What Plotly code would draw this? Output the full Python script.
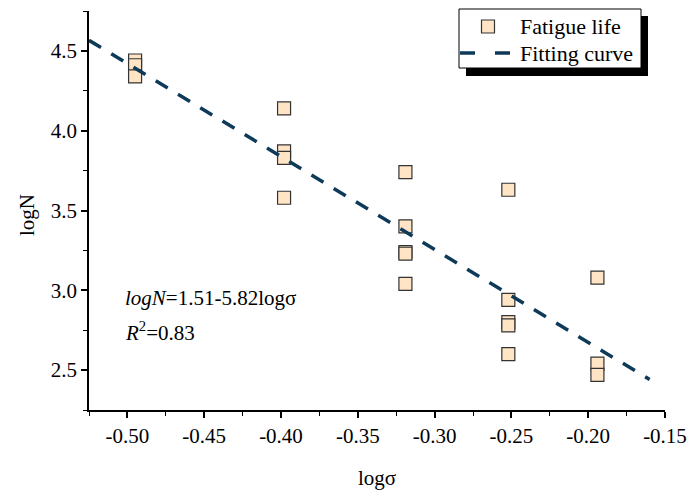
import plotly.graph_objects as go

# Data
x_fatigue = [-0.495, -0.495, -0.495,
             -0.398, -0.398, -0.398, -0.398,
             -0.319, -0.319, -0.319, -0.319, -0.319,
             -0.252, -0.252, -0.252, -0.252, -0.252,
             -0.194, -0.194, -0.194]
y_fatigue = [4.44, 4.41, 4.34,
             4.14, 3.87, 3.83, 3.58,
             3.74, 3.40, 3.24, 3.23, 3.04,
             3.63, 2.94, 2.80, 2.78, 2.60,
             3.08, 2.54, 2.47]
x_fit = [-0.525, -0.160]
y_fit = [4.566, 2.441]

x_ticks = [-0.50, -0.45, -0.40, -0.35, -0.30, -0.25, -0.20, -0.15]
x_ticklabels = ["-0.50", "-0.45", "-0.40", "-0.35", "-0.30", "-0.25", "-0.20", "-0.15"]
y_ticks = [2.5, 3.0, 3.5, 4.0, 4.5]
y_ticklabels = ["2.5", "3.0", "3.5", "4.0", "4.5"]
legend_names = ["Fatigue life", "Fitting curve"]

FONT = "Liberation Serif"
MARKER_FILL = "#FFE5C6"
MARKER_EDGE = "#333333"
LINE_COLOR = "#0E3A5A"
PL, PR, PT, PB = 89, 665, 11, 410   # plot area in pixels
PW, PH = PR - PL, PB - PT


def px(xp):
    return (xp - PL) / PW


def py(yp):
    return (PB - yp) / PH


fig = go.Figure()
fig.add_trace(go.Scatter(
    x=x_fatigue, y=y_fatigue, mode="markers", name=legend_names[0],
    marker=dict(symbol="square", size=13, color=MARKER_FILL,
                line=dict(color=MARKER_EDGE, width=1.2)),
))
fig.add_trace(go.Scatter(
    x=x_fit, y=y_fit, mode="lines", name=legend_names[1],
    line=dict(color=LINE_COLOR, width=3.5, dash="14px,12px"),
))

axis_common = dict(
    showline=True, linecolor="black", linewidth=1.5, mirror=False,
    ticks="outside", ticklen=6, tickwidth=1.5, tickcolor="black",
    showgrid=False, zeroline=False, automargin=False,
    tickfont=dict(family=FONT, size=21, color="black"),
)

fig.update_layout(
    width=689, height=490,
    margin=dict(l=PL, r=689 - PR, t=PT, b=490 - PB),
    paper_bgcolor="white", plot_bgcolor="white",
    font=dict(family=FONT, color="black"),
    showlegend=False,
    xaxis=dict(
        range=[-0.525, -0.15], tickvals=x_ticks, ticktext=x_ticklabels,
        minor=dict(ticks="outside", ticklen=4, tickwidth=1.2, tickcolor="black", dtick=0.025),
        **axis_common,
    ),
    yaxis=dict(
        range=[2.25, 4.75], tickvals=y_ticks, ticktext=y_ticklabels,
        minor=dict(ticks="outside", ticklen=4, tickwidth=1.2, tickcolor="black", dtick=0.25),
        **axis_common,
    ),
)

# ---- legend box (drawn by hand to match the framed, shadowed legend) ----
fig.add_shape(type="rect", xref="paper", yref="paper",
              x0=px(466), x1=px(648), y0=py(76), y1=py(16),
              fillcolor="black", line=dict(width=0), layer="above")
fig.add_shape(type="rect", xref="paper", yref="paper",
              x0=px(459), x1=px(641), y0=py(68), y1=py(9),
              fillcolor="white", line=dict(color="black", width=1), layer="above")
fig.add_shape(type="rect", xref="paper", yref="paper",
              x0=px(481.5), x1=px(494.5), y0=py(33), y1=py(20),
              fillcolor=MARKER_FILL, line=dict(color=MARKER_EDGE, width=1.2), layer="above")
fig.add_shape(type="line", xref="paper", yref="paper",
              x0=px(460), x1=px(513), y0=py(53), y1=py(53),
              line=dict(color=LINE_COLOR, width=3.5, dash="15px,20px"), layer="above")
for name, yp in zip(legend_names, [26, 53]):
    fig.add_annotation(xref="paper", yref="paper", x=px(518), y=py(yp),
                       xanchor="left", yanchor="middle", showarrow=False,
                       text=name, font=dict(family=FONT, size=22, color="black"))

# axis titles
fig.add_annotation(xref="paper", yref="paper", x=px(377), y=py(478),
                   xanchor="center", yanchor="middle", showarrow=False,
                   text="logσ", font=dict(family=FONT, size=21, color="black"))
fig.add_annotation(xref="paper", yref="paper", x=px(27), y=py(215),
                   xanchor="center", yanchor="middle", showarrow=False, textangle=-90,
                   text="logN", font=dict(family=FONT, size=21, color="black"))

# equation text
fig.add_annotation(xref="paper", yref="paper", x=px(123), y=py(298),
                   xanchor="left", yanchor="middle", showarrow=False,
                   text="<i>logN</i>=1.51-5.82logσ",
                   font=dict(family=FONT, size=21, color="black"))
fig.add_annotation(xref="paper", yref="paper", x=px(123), y=py(331),
                   xanchor="left", yanchor="middle", showarrow=False,
                   text="<i>R</i><sup>2</sup>=0.83",
                   font=dict(family=FONT, size=21, color="black"))

fig.write_html("out.html")
